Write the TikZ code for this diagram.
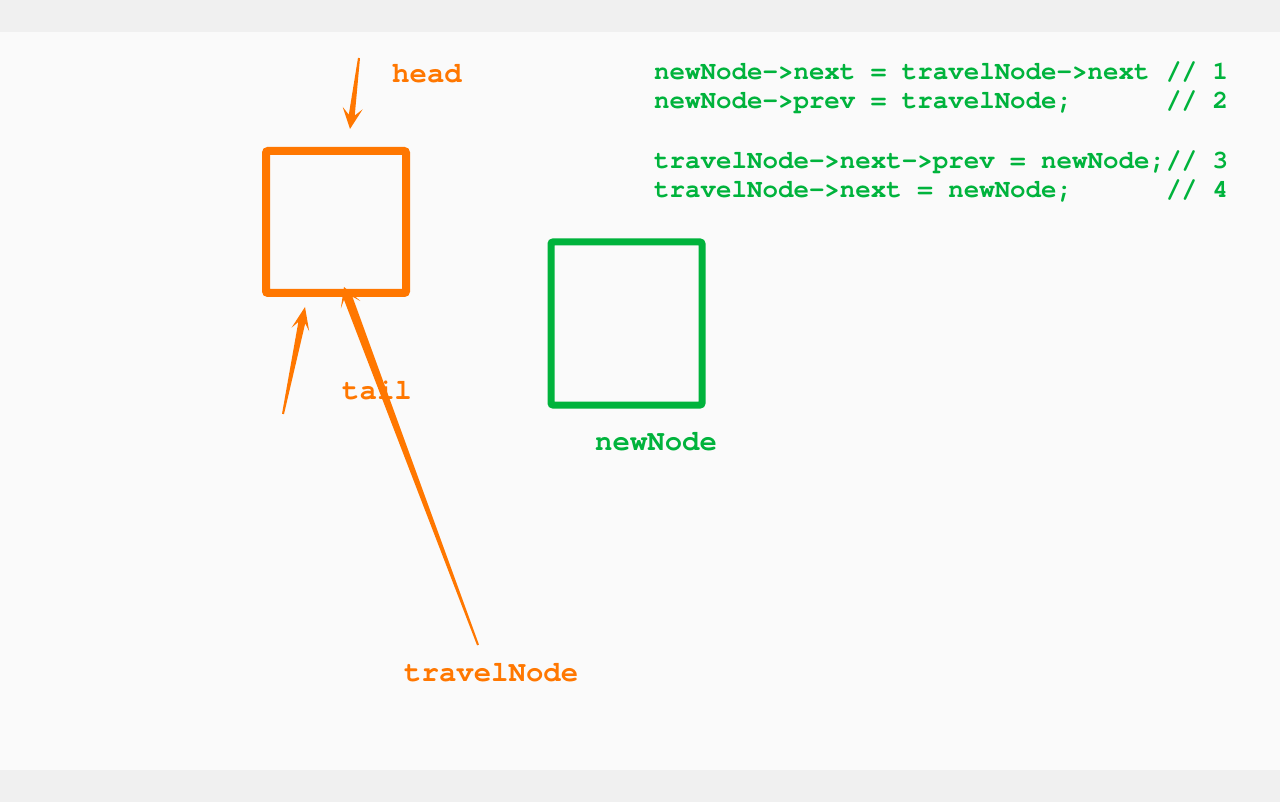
\documentclass[tikz,border=0pt]{standalone}
\usepackage{fontspec}
\usepackage{xcolor}
\usetikzlibrary{calc,positioning}
\newfontfamily\codefont{texgyrecursor}[Extension=.otf, UprightFont=*-regular, BoldFont=*-bold]
\definecolor{listorange}{HTML}{FF7700}
\definecolor{listgreen}{HTML}{00B33C}
\definecolor{bandgray}{HTML}{F0F0F0}
\definecolor{paper}{HTML}{FAFAFA}
% tapered pointer: start, tip, start half width, neck half width, wing half width, wing length, notch length
\newcommand{\taperarrow}[7]{%
	\coordinate (wb) at ($(#2)!#6!(#1)$);
	\coordinate (nb) at ($(#2)!#7!(#1)$);
	\fill[pointer] ($(#1)!#3!90:(#2)$) -- ($(nb)!#4!-90:(#1)$) -- ($(wb)!#5!-90:(#1)$) -- (#2)
	-- ($(wb)!#5!90:(#1)$) -- ($(nb)!#4!90:(#1)$) -- ($(#1)!#3!-90:(#2)$) -- cycle;}
\begin{document}
\begin{tikzpicture}[x=1pt,y=-1pt,
	listnode/.style={draw, line width=#1, rounded corners=2pt, inner sep=0pt},
	pointer/.style={fill=listorange},
	label/.style={anchor=base west, inner sep=0pt, font=\codefont\bfseries\fontsize{29pt}{32pt}\selectfont},
	code/.style={anchor=base west, inner sep=0pt, text=listgreen, font=\codefont\bfseries\fontsize{25.8pt}{29pt}\selectfont}]
	%\draw[help lines] (0,0) grid (1280,802);
	\useasboundingbox (0,0) rectangle (1280,802);
	\fill[bandgray] (0,0) rectangle (1280,32);
	\fill[paper] (0,32) rectangle (1280,770);
	\fill[bandgray] (0,770) rectangle (1280,802);
	
	\node[listnode=8pt, draw=listorange, minimum width=140pt, minimum height=142pt] (travel) at (336,222) {};
	\node[listnode=7pt, draw=listgreen, minimum width=151pt, minimum height=163pt] (new) at (626.5,323.5) {};
	
	\node[label, text=listorange] (headlabel) at (392,83) {head};
	\node[label, text=listorange] (taillabel) at (342,399) {tail};
	\node[label, text=listorange] (travellabel) at (404,681) {travelNode};
	\node[label, text=listgreen] (newlabel) at (595,450) {newNode};
	
	\coordinate (headfrom) at (359,58);
	\coordinate (headto) at (350,129);
	\coordinate (tailfrom) at (283,414);
	\coordinate (tailto) at (305,307);
	\coordinate (travelfrom) at (478,645);
	\coordinate (travelto) at (344,287);
	\taperarrow{headfrom}{headto}{1pt}{3pt}{10pt}{21pt}{14pt}
	\taperarrow{tailfrom}{tailto}{1pt}{3.5pt}{9pt}{23pt}{16pt}
	\taperarrow{travelfrom}{travelto}{1pt}{4.5pt}{10.5pt}{19pt}{12pt}
	
	\foreach \y/\txt/\c in {80/{newNode->next = travelNode->next}/1,
		109/{newNode->prev = travelNode;}/2,
		169/{travelNode->next->prev = newNode;}/3,
		198/{travelNode->next = newNode;}/4}{
		\node[code] (code\c) at (654,\y) {\txt};
		\node[code] (comment\c) at (1166,\y) {// \c};
	}
\end{tikzpicture}
\end{document}
